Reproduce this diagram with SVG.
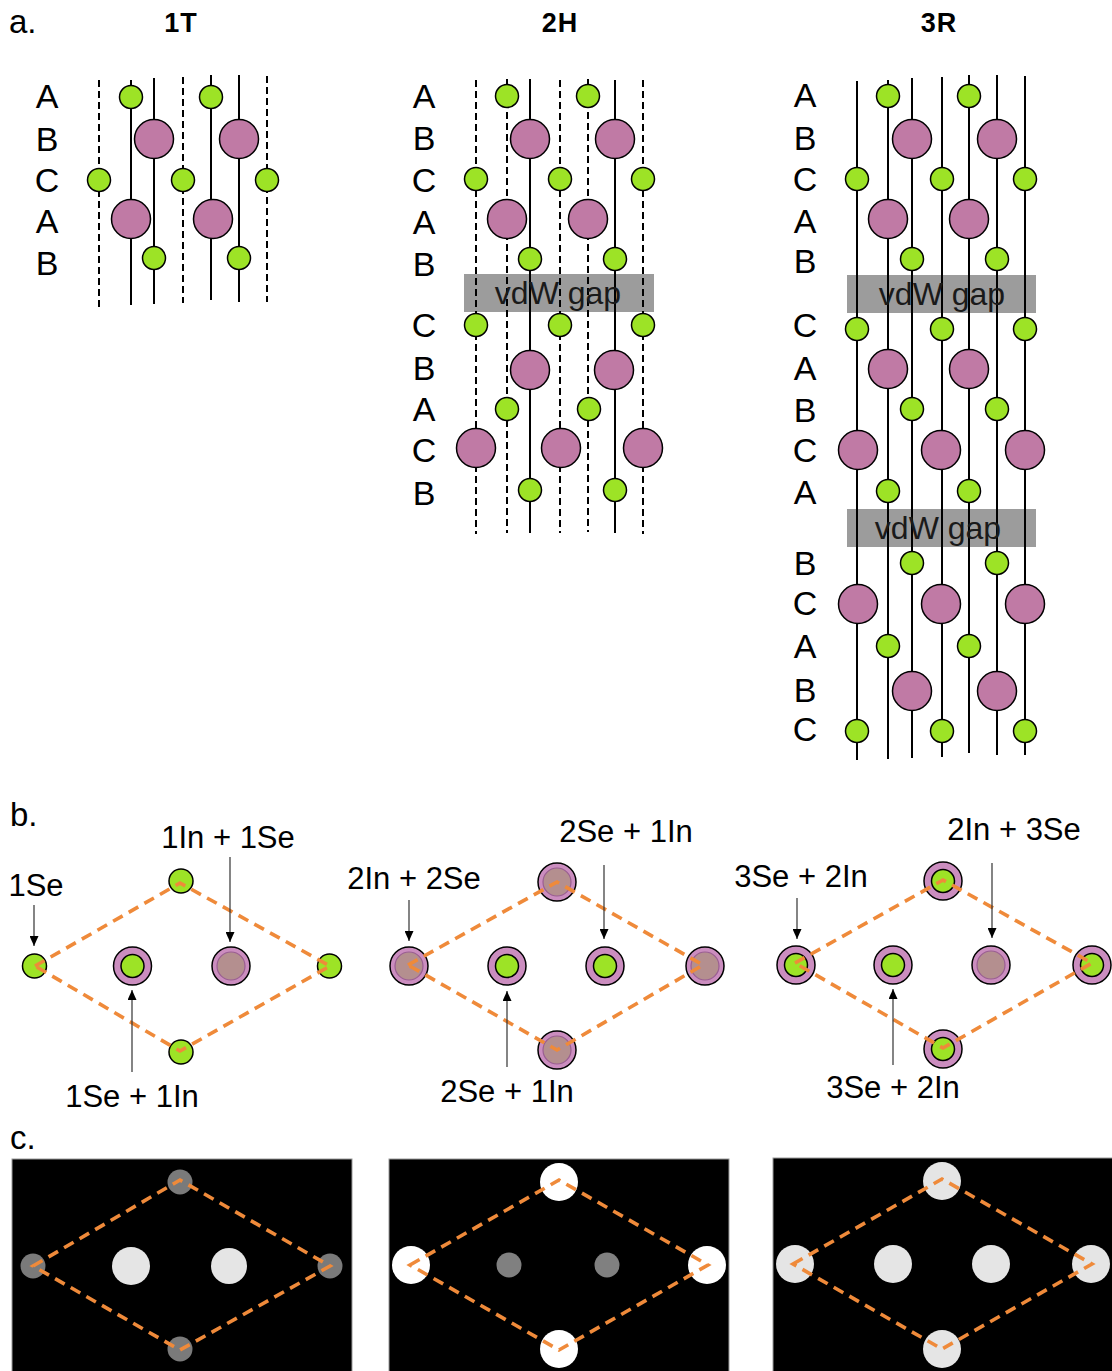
<svg xmlns="http://www.w3.org/2000/svg" width="1112" height="1371" viewBox="0 0 1112 1371">
  <defs>
    <style>
      text { font-family: "Liberation Sans", Arial, sans-serif; fill: #000; }
      .lbl { font-size: 34px; text-anchor: middle; }
      .ttl { font-size: 27px; font-weight: bold; text-anchor: middle; letter-spacing: 1px; }
      .pn { font-size: 33px; }
      .cmp { font-size: 31px; text-anchor: middle; }
      .gap { font-size: 32px; text-anchor: middle; fill: #1a1a1a; }
      .sl { stroke: #000; stroke-width: 2; fill: none; }
      .dl { stroke: #000; stroke-width: 2; stroke-dasharray: 7 4; fill: none; }
      .g { fill: #9de326; stroke: #000; stroke-width: 1.5; }
      .p { fill: #c07aa5; stroke: #000; stroke-width: 1.5; }
      .ring { fill: #cb8dbf; stroke: #000; stroke-width: 1.5; }
      .brn { fill: #b48f8f; stroke: #9a5e92; stroke-width: 1.2; }
      .vdw { fill: #9c9c9c; }
      .cell { fill: none; stroke: #ef8a3a; stroke-width: 3.6; stroke-dasharray: 11 7; }
      .arr { stroke: #333; stroke-width: 1.2; fill: none; marker-end: url(#tip); }
      .box { fill: #000; stroke: #9a9a9a; stroke-width: 1; }
    </style>
    <marker id="tip" markerUnits="userSpaceOnUse" markerWidth="10" markerHeight="9" refX="10" refY="4.5" orient="auto">
      <path d="M0,0 L10,4.5 L0,9 z" fill="#000"/>
    </marker>
  </defs>

  <!-- panel letters and stacking titles -->
  <text class="pn" x="9" y="33">a.</text>
  <text class="pn" x="10" y="826">b.</text>
  <text class="pn" x="10" y="1149">c.</text>
  <text class="ttl" x="181" y="32">1T</text>
  <text class="ttl" x="560" y="32">2H</text>
  <text class="ttl" x="939" y="32">3R</text>

  <!-- 1T stacking -->
  <g id="stack-1T">
    <text class="lbl" x="47" y="108">A</text>
    <text class="lbl" x="47" y="151">B</text>
    <text class="lbl" x="47" y="192">C</text>
    <text class="lbl" x="47" y="233">A</text>
    <text class="lbl" x="47" y="275">B</text>
    <line class="dl" x1="99" y1="80" x2="99" y2="307"/>
    <line class="sl" x1="131" y1="80" x2="131" y2="305"/>
    <line class="sl" x1="154" y1="78" x2="154" y2="304"/>
    <line class="dl" x1="183" y1="77" x2="183" y2="303"/>
    <line class="sl" x1="211" y1="75" x2="211" y2="300"/>
    <line class="sl" x1="239" y1="75" x2="239" y2="302"/>
    <line class="dl" x1="267" y1="76" x2="267" y2="302"/>
    <circle class="g" cx="131" cy="97" r="11.5"/>
    <circle class="g" cx="211" cy="97" r="11.5"/>
    <circle class="p" cx="154" cy="139" r="19.5"/>
    <circle class="p" cx="239" cy="139" r="19.5"/>
    <circle class="g" cx="99" cy="180" r="11.5"/>
    <circle class="g" cx="183" cy="180" r="11.5"/>
    <circle class="g" cx="267" cy="180" r="11.5"/>
    <circle class="p" cx="131" cy="219" r="19.5"/>
    <circle class="p" cx="213" cy="219" r="19.5"/>
    <circle class="g" cx="154" cy="258" r="11.5"/>
    <circle class="g" cx="239" cy="258" r="11.5"/>
  </g>

  <!-- 2H stacking -->
  <g id="stack-2H">
    <text class="lbl" x="424" y="108">A</text>
    <text class="lbl" x="424" y="150">B</text>
    <text class="lbl" x="424" y="192">C</text>
    <text class="lbl" x="424" y="234">A</text>
    <text class="lbl" x="424" y="276">B</text>
    <text class="lbl" x="424" y="337">C</text>
    <text class="lbl" x="424" y="380">B</text>
    <text class="lbl" x="424" y="421">A</text>
    <text class="lbl" x="424" y="462">C</text>
    <text class="lbl" x="424" y="505">B</text>
    <rect class="vdw" x="464" y="274" width="190" height="38"/>
    <line class="dl" x1="476" y1="80" x2="476" y2="534"/>
    <line class="dl" x1="507" y1="79" x2="507" y2="533"/>
    <line class="sl" x1="530" y1="79" x2="530" y2="533"/>
    <line class="dl" x1="560" y1="80" x2="560" y2="533"/>
    <line class="dl" x1="588" y1="79" x2="588" y2="532"/>
    <line class="sl" x1="615" y1="80" x2="615" y2="533"/>
    <line class="dl" x1="643" y1="80" x2="643" y2="534"/>
    <circle class="g" cx="507" cy="96" r="11.5"/>
    <circle class="g" cx="588" cy="96" r="11.5"/>
    <circle class="p" cx="530" cy="139" r="19.5"/>
    <circle class="p" cx="615" cy="139" r="19.5"/>
    <circle class="g" cx="476" cy="179" r="11.5"/>
    <circle class="g" cx="560" cy="179" r="11.5"/>
    <circle class="g" cx="643" cy="179" r="11.5"/>
    <circle class="p" cx="507" cy="219" r="19.5"/>
    <circle class="p" cx="588" cy="219" r="19.5"/>
    <circle class="g" cx="530" cy="259" r="11.5"/>
    <circle class="g" cx="615" cy="259" r="11.5"/>
    <text class="gap" x="558" y="304">vdW gap</text>
    <circle class="g" cx="476" cy="325" r="11.5"/>
    <circle class="g" cx="560" cy="325" r="11.5"/>
    <circle class="g" cx="643" cy="325" r="11.5"/>
    <circle class="p" cx="530" cy="370" r="19.5"/>
    <circle class="p" cx="614" cy="370" r="19.5"/>
    <circle class="g" cx="507" cy="409" r="11.5"/>
    <circle class="g" cx="589" cy="409" r="11.5"/>
    <circle class="p" cx="476" cy="448" r="19.5"/>
    <circle class="p" cx="561" cy="448" r="19.5"/>
    <circle class="p" cx="643" cy="448" r="19.5"/>
    <circle class="g" cx="530" cy="490" r="11.5"/>
    <circle class="g" cx="615" cy="490" r="11.5"/>
  </g>

  <!-- 3R stacking -->
  <g id="stack-3R">
    <text class="lbl" x="805" y="107">A</text>
    <text class="lbl" x="805" y="150">B</text>
    <text class="lbl" x="805" y="191">C</text>
    <text class="lbl" x="805" y="233">A</text>
    <text class="lbl" x="805" y="273">B</text>
    <text class="lbl" x="805" y="337">C</text>
    <text class="lbl" x="805" y="380">A</text>
    <text class="lbl" x="805" y="422">B</text>
    <text class="lbl" x="805" y="462">C</text>
    <text class="lbl" x="805" y="504">A</text>
    <text class="lbl" x="805" y="575">B</text>
    <text class="lbl" x="805" y="615">C</text>
    <text class="lbl" x="805" y="658">A</text>
    <text class="lbl" x="805" y="702">B</text>
    <text class="lbl" x="805" y="741">C</text>
    <rect class="vdw" x="847" y="275" width="189" height="38"/>
    <rect class="vdw" x="847" y="509" width="189" height="38"/>
    <line class="sl" x1="857" y1="81" x2="857" y2="760"/>
    <line class="sl" x1="888" y1="80" x2="888" y2="759"/>
    <line class="sl" x1="912" y1="78" x2="912" y2="758"/>
    <line class="sl" x1="942" y1="77" x2="942" y2="757"/>
    <line class="sl" x1="969" y1="75" x2="969" y2="753"/>
    <line class="sl" x1="997" y1="75" x2="997" y2="755"/>
    <line class="sl" x1="1025" y1="76" x2="1025" y2="755"/>
    <circle class="g" cx="888" cy="96" r="11.5"/>
    <circle class="g" cx="969" cy="96" r="11.5"/>
    <circle class="p" cx="912" cy="139" r="19.5"/>
    <circle class="p" cx="997" cy="139" r="19.5"/>
    <circle class="g" cx="857" cy="179" r="11.5"/>
    <circle class="g" cx="942" cy="179" r="11.5"/>
    <circle class="g" cx="1025" cy="179" r="11.5"/>
    <circle class="p" cx="888" cy="219" r="19.5"/>
    <circle class="p" cx="969" cy="219" r="19.5"/>
    <circle class="g" cx="912" cy="259" r="11.5"/>
    <circle class="g" cx="997" cy="259" r="11.5"/>
    <text class="gap" x="942" y="305">vdW gap</text>
    <circle class="g" cx="857" cy="329" r="11.5"/>
    <circle class="g" cx="942" cy="329" r="11.5"/>
    <circle class="g" cx="1025" cy="329" r="11.5"/>
    <circle class="p" cx="888" cy="369" r="19.5"/>
    <circle class="p" cx="969" cy="369" r="19.5"/>
    <circle class="g" cx="912" cy="409" r="11.5"/>
    <circle class="g" cx="997" cy="409" r="11.5"/>
    <circle class="p" cx="858" cy="450" r="19.5"/>
    <circle class="p" cx="941" cy="450" r="19.5"/>
    <circle class="p" cx="1025" cy="450" r="19.5"/>
    <circle class="g" cx="888" cy="491" r="11.5"/>
    <circle class="g" cx="969" cy="491" r="11.5"/>
    <text class="gap" x="938" y="539">vdW gap</text>
    <circle class="g" cx="912" cy="563" r="11.5"/>
    <circle class="g" cx="997" cy="563" r="11.5"/>
    <circle class="p" cx="858" cy="604" r="19.5"/>
    <circle class="p" cx="941" cy="604" r="19.5"/>
    <circle class="p" cx="1025" cy="604" r="19.5"/>
    <circle class="g" cx="888" cy="646" r="11.5"/>
    <circle class="g" cx="969" cy="646" r="11.5"/>
    <circle class="p" cx="912" cy="691" r="19.5"/>
    <circle class="p" cx="997" cy="691" r="19.5"/>
    <circle class="g" cx="857" cy="731" r="11.5"/>
    <circle class="g" cx="942" cy="731" r="11.5"/>
    <circle class="g" cx="1025" cy="731" r="11.5"/>
  </g>

  <!-- b: projected unit cells -->
  <g id="cell-1T">
    <circle class="g" cx="34.5" cy="966" r="12"/>
    <circle class="g" cx="181" cy="881" r="12"/>
    <circle class="g" cx="329.5" cy="966" r="12"/>
    <circle class="g" cx="181" cy="1052" r="12"/>
    <circle class="ring" cx="132.5" cy="966" r="19"/>
    <circle class="g" cx="132.5" cy="966" r="11.5"/>
    <circle class="ring" cx="231" cy="966" r="19"/>
    <circle class="brn" cx="231" cy="966" r="14"/>
    <polygon class="cell" points="35,966 180,883 330,966 180,1051"/>
    <text class="cmp" x="36" y="896">1Se</text>
    <text class="cmp" x="228" y="848">1In + 1Se</text>
    <text class="cmp" x="132" y="1107">1Se + 1In</text>
  </g>

  <g id="cell-2H">
    <circle class="ring" cx="409" cy="966" r="19"/>
    <circle class="brn" cx="409" cy="966" r="14"/>
    <circle class="ring" cx="557" cy="882" r="19"/>
    <circle class="brn" cx="557" cy="882" r="14"/>
    <circle class="ring" cx="705" cy="966" r="19"/>
    <circle class="brn" cx="705" cy="966" r="14"/>
    <circle class="ring" cx="557" cy="1050" r="19"/>
    <circle class="brn" cx="557" cy="1050" r="14"/>
    <circle class="ring" cx="507" cy="966" r="19"/>
    <circle class="g" cx="507" cy="966" r="11.5"/>
    <circle class="ring" cx="605" cy="966" r="19"/>
    <circle class="g" cx="605" cy="966" r="11.5"/>
    <polygon class="cell" points="408,965 557,882 703,965 557,1050"/>
    <text class="cmp" x="414" y="889">2In + 2Se</text>
    <text class="cmp" x="626" y="842">2Se + 1In</text>
    <text class="cmp" x="507" y="1102">2Se + 1In</text>
  </g>

  <g id="cell-3R">
    <circle class="ring" cx="796" cy="965" r="19"/>
    <circle class="g" cx="796" cy="965" r="11.5"/>
    <circle class="ring" cx="943" cy="881" r="19"/>
    <circle class="g" cx="943" cy="881" r="11.5"/>
    <circle class="ring" cx="1092" cy="965" r="19"/>
    <circle class="g" cx="1092" cy="965" r="11.5"/>
    <circle class="ring" cx="943" cy="1049" r="19"/>
    <circle class="g" cx="943" cy="1049" r="11.5"/>
    <circle class="ring" cx="893" cy="965" r="19"/>
    <circle class="g" cx="893" cy="965" r="11.5"/>
    <circle class="ring" cx="991" cy="965" r="19"/>
    <circle class="brn" cx="991" cy="965" r="14"/>
    <polygon class="cell" points="795,963 943,880 1092,963 943,1048"/>
    <text class="cmp" x="801" y="887">3Se + 2In</text>
    <text class="cmp" x="1014" y="840">2In + 3Se</text>
    <text class="cmp" x="893" y="1098">3Se + 2In</text>
  </g>

  <!-- pointer arrows -->
  <g id="connectors">
    <line class="arr" x1="34" y1="905" x2="34" y2="946"/>
    <line class="arr" x1="230" y1="857" x2="230" y2="942"/>
    <line class="arr" x1="132" y1="1072" x2="132" y2="990"/>
    <line class="arr" x1="409" y1="900" x2="409" y2="941"/>
    <line class="arr" x1="604" y1="865" x2="604" y2="939"/>
    <line class="arr" x1="507" y1="1067" x2="507" y2="991"/>
    <line class="arr" x1="797" y1="898" x2="797" y2="939"/>
    <line class="arr" x1="992" y1="863" x2="992" y2="938"/>
    <line class="arr" x1="893" y1="1065" x2="893" y2="989"/>
  </g>

  <!-- c: simulated projections -->
  <g id="image-1T">
    <rect class="box" x="12" y="1159" width="340" height="214"/>
    <circle cx="33" cy="1266" r="12.5" fill="#7a7a7a"/>
    <circle cx="180" cy="1182" r="12.5" fill="#7a7a7a"/>
    <circle cx="330" cy="1266" r="12.5" fill="#7a7a7a"/>
    <circle cx="180" cy="1349" r="12.5" fill="#7a7a7a"/>
    <circle cx="131" cy="1266" r="19" fill="#e5e5e5"/>
    <circle cx="229" cy="1266" r="18" fill="#e5e5e5"/>
    <polygon class="cell" points="33,1266 180,1180 330,1266 180,1350"/>
  </g>

  <g id="image-2H">
    <rect class="box" x="389" y="1159" width="340" height="214"/>
    <circle cx="411" cy="1265" r="19" fill="#fff"/>
    <circle cx="559" cy="1182" r="19" fill="#fff"/>
    <circle cx="707" cy="1265" r="19" fill="#fff"/>
    <circle cx="559" cy="1349" r="19" fill="#fff"/>
    <circle cx="509" cy="1265" r="12.5" fill="#808080"/>
    <circle cx="607" cy="1265" r="12.5" fill="#808080"/>
    <polygon class="cell" points="410,1265 559,1180 708,1265 559,1350"/>
  </g>

  <g id="image-3R">
    <rect class="box" x="773" y="1158" width="342" height="215"/>
    <circle cx="795" cy="1264" r="19" fill="#e5e5e5"/>
    <circle cx="942" cy="1181" r="19" fill="#e5e5e5"/>
    <circle cx="1091" cy="1264" r="19" fill="#e5e5e5"/>
    <circle cx="942" cy="1349" r="19" fill="#e5e5e5"/>
    <circle cx="893" cy="1264" r="19" fill="#e5e5e5"/>
    <circle cx="991" cy="1264" r="19" fill="#e5e5e5"/>
    <polygon class="cell" points="793,1264 942,1179 1092,1264 942,1349"/>
  </g>
</svg>
